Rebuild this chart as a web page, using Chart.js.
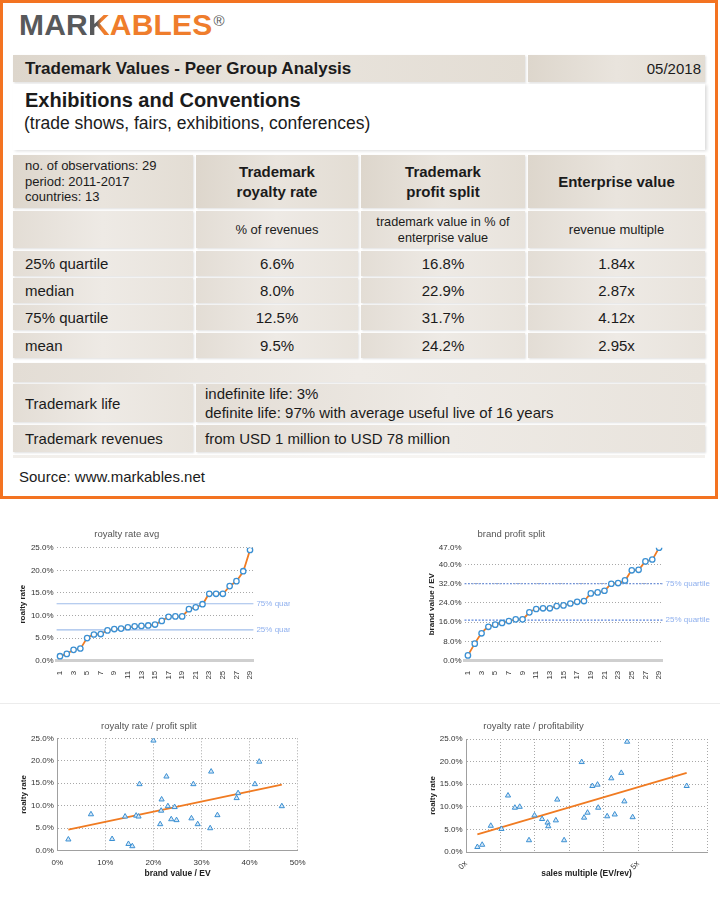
<!DOCTYPE html>
<html>
<head>
<meta charset="utf-8">
<script src="https://cdn.jsdelivr.net/npm/chart.js@4.4.1/dist/chart.umd.min.js"></script>
<style>
body{margin:0;width:720px;height:917px;overflow:hidden;background:#fff;position:relative;font-family:"Liberation Sans",Arial,sans-serif;color:#1b1b1b}
#frame{position:absolute;left:0;top:0;width:712px;height:493px;border:3px solid #f37321}
#logo{position:absolute;left:19px;top:9px;font-size:30px;font-weight:bold;line-height:32px;letter-spacing:0.2px}
#logo .g{color:#58595b}
#logo .k{background:linear-gradient(90deg,#58595b 40%,#ef7d2c 62%);-webkit-background-clip:text;background-clip:text;color:transparent}
#logo .o{color:#ef7d2c}
#logo sup{font-size:15px;font-weight:normal;color:#58595b;vertical-align:top;position:relative;top:-4px;left:1px}
.c{position:absolute;box-sizing:border-box;display:flex;align-items:center;font-size:15px;background:linear-gradient(90deg,#e3ddd5 0%,#eeeae5 50%,#e8e3dc 100%);box-shadow:1px 1px 2px rgba(0,0,0,0.13)}
.h{background:linear-gradient(90deg,#ddd6cc 0%,#e9e4dd 50%,#e3ddd4 100%)}
.l{padding-left:12px}
.m{justify-content:center;text-align:center}
.b{font-weight:bold}
.chart{position:absolute;overflow:hidden}
</style>
</head>
<body>
<div id="frame"></div>
<div id="logo"><span class="g">MAR</span><span class="k">K</span><span class="o">ABLES</span><sup>®</sup></div>

<div class="c h l b" style="left:13px;top:55px;width:512px;height:27px;font-size:17px">Trademark Values - Peer Group Analysis</div>
<div class="c h" style="left:528px;top:55px;width:177px;height:27px;justify-content:flex-end;padding-right:4px">05/2018</div>
<div style="position:absolute;left:13px;top:84px;width:692px;height:66px;background:#fff;box-shadow:2px 1px 3px rgba(0,0,0,0.14)"></div>
<div style="position:absolute;left:25px;top:88px;font-size:20px;font-weight:bold;line-height:24px">Exhibitions and Conventions</div>
<div style="position:absolute;left:24px;top:112px;font-size:17.5px;line-height:22px">(trade shows, fairs, exhibitions, conferences)</div>

<div class="c h l" style="left:13px;top:155px;width:180px;height:53px;font-size:13px;line-height:15.5px">no. of observations: 29<br>period: 2011-2017<br>countries: 13</div>
<div class="c h m b" style="left:196px;top:155px;width:162px;height:53px;line-height:20px">Trademark<br>royalty rate</div>
<div class="c h m b" style="left:361px;top:155px;width:164px;height:53px;line-height:20px">Trademark<br>profit split</div>
<div class="c h m b" style="left:528px;top:155px;width:177px;height:53px">Enterprise value</div>

<div class="c" style="left:13px;top:211px;width:180px;height:37px"></div>
<div class="c m" style="left:196px;top:211px;width:162px;height:37px;font-size:13px">% of revenues</div>
<div class="c m" style="left:361px;top:211px;width:164px;height:37px;font-size:12.7px;line-height:16px">trademark value in % of<br>enterprise value</div>
<div class="c m" style="left:528px;top:211px;width:177px;height:37px;font-size:13px">revenue multiple</div>

<div class="c l" style="left:13px;top:251px;width:180px;height:25px">25% quartile</div>
<div class="c m" style="left:196px;top:251px;width:162px;height:25px">6.6%</div>
<div class="c m" style="left:361px;top:251px;width:164px;height:25px">16.8%</div>
<div class="c m" style="left:528px;top:251px;width:177px;height:25px">1.84x</div>

<div class="c l" style="left:13px;top:278px;width:180px;height:25px">median</div>
<div class="c m" style="left:196px;top:278px;width:162px;height:25px">8.0%</div>
<div class="c m" style="left:361px;top:278px;width:164px;height:25px">22.9%</div>
<div class="c m" style="left:528px;top:278px;width:177px;height:25px">2.87x</div>

<div class="c l" style="left:13px;top:305px;width:180px;height:25px">75% quartile</div>
<div class="c m" style="left:196px;top:305px;width:162px;height:25px">12.5%</div>
<div class="c m" style="left:361px;top:305px;width:164px;height:25px">31.7%</div>
<div class="c m" style="left:528px;top:305px;width:177px;height:25px">4.12x</div>

<div class="c l" style="left:13px;top:333px;width:180px;height:25px">mean</div>
<div class="c m" style="left:196px;top:333px;width:162px;height:25px">9.5%</div>
<div class="c m" style="left:361px;top:333px;width:164px;height:25px">24.2%</div>
<div class="c m" style="left:528px;top:333px;width:177px;height:25px">2.95x</div>

<div class="c" style="left:13px;top:363px;width:692px;height:19px"></div>

<div class="c l" style="left:13px;top:384px;width:180px;height:38px">Trademark life</div>
<div class="c l" style="left:196px;top:384px;width:509px;height:38px;line-height:19px;padding-left:9px">indefinite life: 3%<br>definite life: 97% with average useful live of 16 years</div>

<div class="c l" style="left:13px;top:425px;width:180px;height:27px">Trademark revenues</div>
<div class="c l" style="left:196px;top:425px;width:509px;height:27px;padding-left:9px">from USD 1 million to USD 78 million</div>
<div class="c" style="left:13px;top:455px;width:692px;height:3px;box-shadow:none;opacity:0.5"></div>

<div style="position:absolute;left:19px;top:468px;font-size:15px;line-height:18px">Source: www.markables.net</div>

<div style="position:absolute;left:0;top:703px;width:720px;height:1px;background:#ececec"></div>

<div class="chart" style="left:0;top:520px;width:290px;height:180px"><canvas id="c1" width="310" height="180"></canvas></div>
<div class="chart" style="left:360px;top:520px;width:360px;height:180px"><canvas id="c2" width="407" height="180"></canvas></div>
<div class="chart" style="left:0;top:710px;width:355px;height:180px"><canvas id="c3" width="355" height="180"></canvas></div>
<div class="chart" style="left:360px;top:710px;width:360px;height:180px"><canvas id="c4" width="453" height="180"></canvas></div>

<script>
// observation rank 1..29 (sorted ascending)
const rankLabels = ['1','2','3','4','5','6','7','8','9','10','11','12','13','14','15','16','17','18','19','20','21','22','23','24','25','26','27','28','29'];
const royaltyRateSorted = [1.0, 1.5, 2.4, 2.7, 5.0, 5.8, 5.9, 6.7, 7.0, 7.1, 7.4, 7.6, 7.7, 7.8, 8.0, 8.8, 9.7, 9.8, 9.8, 11.4, 11.8, 12.5, 14.8, 14.8, 14.8, 16.5, 17.6, 19.8, 24.5];
const profitSplitSorted = [2.2, 7.1, 11.4, 14.1, 15.0, 15.7, 16.5, 17.2, 17.2, 20.1, 21.5, 21.8, 21.8, 22.7, 23.0, 23.8, 24.5, 24.8, 28.0, 28.4, 29.1, 32.0, 32.3, 33.4, 37.6, 37.8, 41.3, 42.1, 47.0];
const royaltyQuartiles = [6.8, 12.6];
const profitQuartiles = [16.9, 32.0];
const quartileNames = ['25% quartile', '75% quartile'];

// royalty rate vs profit split
const splitX = [2.3, 7.0, 11.4, 14.1, 14.8, 15.6, 16.4, 16.9, 17.1, 20.0, 21.4, 21.6, 21.7, 22.7, 23.0, 23.7, 24.4, 24.8, 27.9, 28.3, 29.2, 31.8, 32.0, 33.3, 37.3, 37.6, 41.1, 42.0, 46.7];
const splitRoyalty = [2.5, 8.1, 2.6, 7.6, 1.5, 1.0, 7.8, 7.6, 14.8, 24.5, 5.9, 8.9, 11.4, 16.5, 9.9, 7.0, 9.7, 6.8, 7.2, 14.8, 5.9, 5.0, 17.6, 7.9, 11.7, 12.8, 14.8, 19.8, 9.9];
const splitTrendX = [2.3, 46.7];
const splitTrendY = [4.7, 14.7];

// royalty rate vs sales multiple
const multipleX = [0.33, 0.47, 0.72, 1.03, 1.22, 1.42, 1.56, 1.83, 1.99, 2.21, 2.37, 2.39, 2.61, 2.65, 2.85, 3.36, 3.43, 3.53, 3.67, 3.82, 3.84, 4.10, 4.22, 4.32, 4.51, 4.60, 4.68, 4.84, 6.41];
const multipleRoyalty = [1.1, 1.6, 5.8, 5.1, 12.5, 9.8, 10.0, 2.6, 8.1, 7.3, 6.5, 5.7, 7.0, 11.6, 2.6, 19.9, 7.6, 8.7, 14.6, 14.9, 9.8, 7.9, 16.3, 8.3, 17.5, 11.2, 24.4, 7.7, 14.6];
const multipleTrendX = [0.33, 6.41];
const multipleTrendY = [3.9, 17.5];

const FF = '"Liberation Sans", Arial, sans-serif';
const ORANGE = '#f07b22';
const BLUE = '#3b90d3';

const quartilePlugin = {
  id: 'quartiles',
  beforeDatasetsDraw(chart, args, opts) {
    if (!opts.values) return;
    const {ctx, chartArea} = chart;
    const y = chart.scales.y;
    opts.values.forEach((v, i) => {
      const py = y.getPixelForValue(v);
      ctx.save();
      ctx.strokeStyle = opts.color;
      ctx.lineWidth = 1.2;
      ctx.setLineDash(opts.dash || []);
      ctx.beginPath();
      ctx.moveTo(chartArea.left, py);
      ctx.lineTo(chartArea.right, py);
      ctx.stroke();
      ctx.fillStyle = opts.textColor;
      ctx.font = '8px ' + FF;
      ctx.textBaseline = 'middle';
      ctx.fillText(quartileNames[i], chartArea.right + 3, py);
      ctx.restore();
    });
  }
};
Chart.register(quartilePlugin);

function titleOpts(text, top, bottom) {
  return {display: true, text: text, color: '#555', font: {size: 9.5, family: FF, weight: 'normal'}, padding: {top: top, bottom: bottom}};
}

function lineChart(id, labels, values, title, yTitle, yMax, yStep, yWidth, yTitlePad, quartiles, qColor, qDash, topGrid) {
  return new Chart(document.getElementById(id), {
    type: 'line',
    data: {
      labels: labels,
      datasets: [{
        data: values,
        borderColor: ORANGE,
        borderWidth: 1.8,
        pointRadius: 2.7,
        pointBorderWidth: 1.3,
        pointBorderColor: BLUE,
        pointBackgroundColor: '#fff',
        tension: 0.15
      }]
    },
    options: {
      responsive: false,
      animation: false,
      layout: {padding: {left: 0, right: yWidth, top: 0, bottom: 0}},
      plugins: {
        legend: {display: false},
        tooltip: {enabled: false},
        title: titleOpts(title, 9, 7.3),
        quartiles: {values: quartiles, color: qColor, textColor: '#8fb0ee', dash: qDash}
      },
      scales: {
        x: {
          offset: true,
          grid: {display: false},
          border: {color: '#cfcfcf', width: 3},
          ticks: {
            autoSkip: false, minRotation: 90, maxRotation: 90, padding: 2,
            color: '#333', font: {size: 8, family: FF},
            callback: (v, i) => (i % 2 === 0 ? labels[i] : '')
          },
          afterFit: s => { s.height = 39.3; }
        },
        y: {
          min: 0, max: yMax,
          ticks: {stepSize: yStep, padding: 3, color: '#333', font: {size: 8, family: FF}, callback: v => v.toFixed(1) + '%'},
          grid: {drawTicks: false, color: c => (c.tick && c.tick.value === yMax && !topGrid ? 'rgba(0,0,0,0)' : '#a8a8a8')},
          border: {display: false, dash: [1, 2]},
          title: {display: true, text: yTitle, color: '#222', font: {size: 8, family: FF, weight: 'bold'}, padding: {top: yTitlePad, bottom: 0}},
          afterFit: s => { s.width = yWidth; }
        }
      }
    }
  });
}

lineChart('c1', rankLabels, royaltyRateSorted, 'royalty rate avg', 'roalty rate', 25, 5, 56.6, 18, royaltyQuartiles, '#9fbdea', [], true);
lineChart('c2', rankLabels, profitSplitSorted, 'brand profit split', 'brand value / EV', 47, 8, 104.5, 67, profitQuartiles, '#5d86dc', [2, 1.5], false);

function scatterChart(id, xs, ys, tx, ty, title, xTitle, yWidth, xMax, xStep, xRot, xFmt, areaBottom, titleBottom) {
  const pts = xs.map((x, i) => ({x: x, y: ys[i]}));
  const trend = tx.map((x, i) => ({x: x, y: ty[i]}));
  const gridStyle = {color: '#a8a8a8', drawTicks: false};
  return new Chart(document.getElementById(id), {
    type: 'scatter',
    data: {
      datasets: [
        {data: trend, showLine: true, borderColor: ORANGE, borderWidth: 1.8, pointRadius: 0, order: 2},
        {data: pts, pointStyle: 'triangle', pointRadius: 3, borderWidth: 1, borderColor: BLUE, backgroundColor: '#d6e7f6', order: 1}
      ]
    },
    options: {
      responsive: false,
      animation: false,
      layout: {padding: {left: 0, right: yWidth, top: 0, bottom: 0}},
      plugins: {
        legend: {display: false},
        tooltip: {enabled: false},
        title: titleOpts(title, 10.3, titleBottom)
      },
      scales: {
        x: {
          type: 'linear', min: 0, max: xMax,
          grid: gridStyle,
          border: {color: '#a0a0a0', dash: [1, 2]},
          ticks: {stepSize: xStep, autoSkip: false, minRotation: xRot, maxRotation: xRot, padding: 7, color: '#333', font: {size: 8, family: FF}, callback: xFmt},
          title: {display: true, text: xTitle, color: '#222', font: {size: 8.5, family: FF, weight: 'bold'}, padding: {top: 0, bottom: 11.5}},
          afterFit: s => { s.height = 180 - areaBottom; }
        },
        y: {
          min: 0, max: 25,
          grid: gridStyle,
          border: {color: '#a0a0a0', dash: [1, 2]},
          ticks: {stepSize: 5, padding: 3.5, color: '#333', font: {size: 8, family: FF}, callback: v => v.toFixed(1) + '%'},
          title: {display: true, text: 'roalty rate', color: '#222', font: {size: 8, family: FF, weight: 'bold'}, padding: {top: yWidth - 38, bottom: 0}},
          afterFit: s => { s.width = yWidth; }
        }
      }
    }
  });
}

scatterChart('c3', splitX, splitRoyalty, splitTrendX, splitTrendY, 'royalty rate / profit split', 'brand value / EV',
  57.3, 50, 10, 0, v => v + '%', 140.7, 6.6);
scatterChart('c4', multipleX, multipleRoyalty, multipleTrendX, multipleTrendY, 'royalty rate / profitability', 'sales multiple (EV/rev)',
  106, 7, 1, 45, v => (v === 0 || v === 5 ? v + 'x' : ''), 142, 7.3);
</script>
</body>
</html>
